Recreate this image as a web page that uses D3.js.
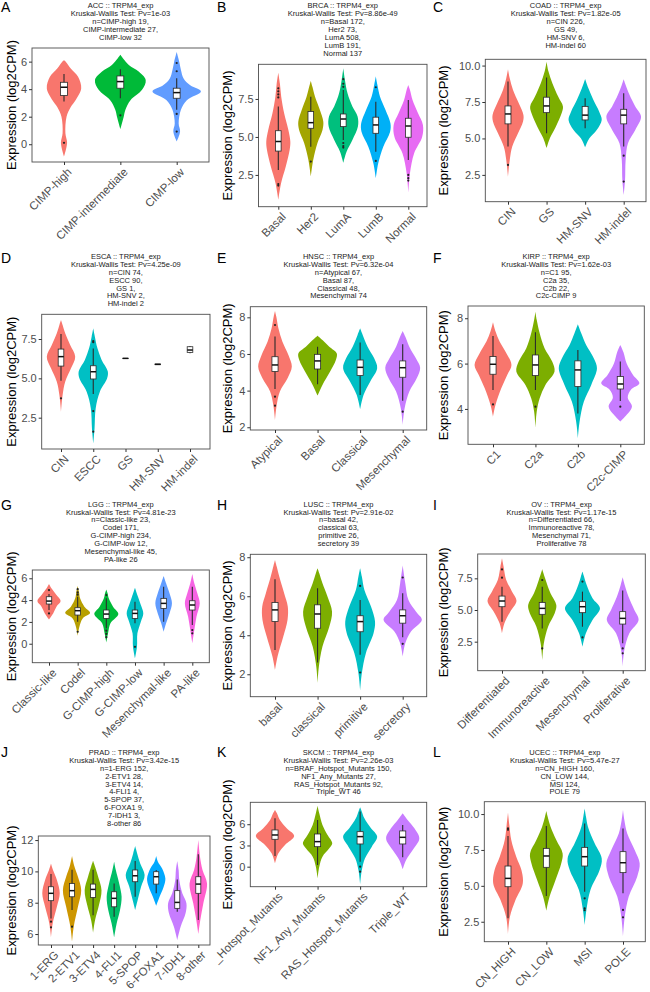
<!DOCTYPE html>
<html>
<head>
<meta charset="utf-8">
<script src="https://cdn.jsdelivr.net/npm/d3@7"></script>
<style>
  body { margin: 0; background: #fff; }
  text { font-family: "Liberation Sans", Arial, sans-serif; }
</style>
</head>
<body>
<script>
// ---- data ----
var panelLetters = ["A","B","C","D","E","F","G","H","I","J","K","L"];
var cohorts = ["ACC","BRCA","COAD","ESCA","HNSC","KIRP","LGG","LUSC","OV","PRAD","SKCM","UCEC"];
var pvals = ["1e-03","8.86e-49","1.82e-05","4.25e-09","6.32e-04","1.62e-03",
             "4.81e-23","2.91e-02","1.17e-15","3.42e-15","2.26e-03","5.47e-27"];

var subtypes = [
  ["CIMP-high","CIMP-intermediate","CIMP-low"],
  ["Basal","Her2","LumA","LumB","Normal"],
  ["CIN","GS","HM-SNV","HM-indel"],
  ["CIN","ESCC","GS","HM-SNV","HM-indel"],
  ["Atypical","Basal","Classical","Mesenchymal"],
  ["C1","C2a","C2b","C2c-CIMP"],
  ["Classic-like","Codel","G-CIMP-high","G-CIMP-low","Mesenchymal-like","PA-like"],
  ["basal","classical","primitive","secretory"],
  ["Differentiated","Immunoreactive","Mesenchymal","Proliferative"],
  ["1-ERG","2-ETV1","3-ETV4","4-FLI1","5-SPOP","6-FOXA1","7-IDH1","8-other"],
  ["BRAF_Hotspot_Mutants","NF1_Any_Mutants","RAS_Hotspot_Mutants","Triple_WT"],
  ["CN_HIGH","CN_LOW","MSI","POLE"]
];

var sampleCounts = [
  [19,27,32], [172,73,508,191,137], [226,49,6,60], [74,90,1,2,2],
  [67,87,48,74], [95,35,22,9], [23,171,234,12,45,26], [42,63,26,39],
  [66,78,71,78], [152,28,14,4,37,9,3,86], [150,27,92,46], [160,144,124,79]
];

var yLimits = [
  [-1.29,6.99], [0.41,9.78], [0.66,10.43], [0.51,9.07], [1.85,8.58], [2.44,8.54],
  [-1.74,6.76], [0.85,8.15], [0.21,9.42], [5.3,12.26], [-2.83,9.1], [1.11,10.86]
];

var yTickValues = [
  [0,2,4,6], [2.5,5,7.5], [2.5,5,7.5,10], [2.5,5,7.5], [2,4,6,8], [4,6,8],
  [0,2,4,6], [2,4,6,8], [2.5,5,7.5], [6,8,10,12], [0,3,6], [2.5,5,7.5,10]
];

// [lower whisker, q1, median, q3, upper whisker]
var boxStats = [
  [[3.1,3.54,4.14,4.5,5.1],[3.34,4.07,4.55,4.96,5.45],[2.5,3.34,3.75,4.07,4.8]],
  [[2.83,4.07,4.7,5.41,7.0],[4.36,5.57,5.94,6.67,7.65],[4.8,5.68,6.18,6.51,8.09],[4.03,5.24,5.79,6.3,7.32],[3.49,4.98,5.72,6.23,7.43]],
  [[4.45,6.0,6.68,7.23,8.9],[5.35,6.77,7.23,7.83,9.18],[5.7,6.27,6.6,7.2,7.75],[4.45,6.0,6.6,7.0,8.1]],
  [[4.85,5.78,6.38,6.86,7.82],[4.0,4.96,5.42,5.8,6.9],[6.27,6.27,6.27,6.27,6.27],[5.87,5.87,5.89,5.91,5.91],[6.6,6.65,6.8,7.01,7.06]],
  [[4.09,5.04,5.4,5.85,6.95],[4.35,5.18,5.62,5.98,6.4],[3.76,4.82,5.27,5.67,6.62],[3.44,4.73,5.25,5.62,6.53]],
  [[4.84,5.53,5.97,6.31,7.22],[4.84,5.47,5.94,6.38,7.38],[3.8,4.99,5.72,6.12,6.6],[4.35,4.88,5.1,5.43,6.09]],
  [[3.09,3.64,3.91,4.31,4.56],[2.02,2.63,3.03,3.3,4.31],[1.41,2.32,2.72,3.09,4.16],[1.87,2.32,2.78,3.09,3.85],[2.02,3.24,3.7,4.16,5.23],[1.71,3.09,3.55,3.94,5.23]],
  [[3.25,4.7,5.3,5.68,6.87],[2.6,4.36,5.09,5.56,6.41],[3.0,4.18,4.7,5.0,5.81],[3.9,4.62,5.0,5.3,6.15]],
  [[4.08,5.26,5.71,6.1,6.84],[3.55,4.66,5.13,5.6,6.84],[3.68,4.79,5.26,5.66,6.45],[2.37,3.89,4.34,4.87,6.53]],
  [[7.0,8.13,8.6,9.02,9.83],[7.53,8.38,8.77,9.23,10.1],[7.2,8.34,8.85,9.19,10.1],[7.1,7.74,8.28,8.7,9.23],[8.38,9.34,9.72,10.09,10.66],[8.6,9.19,9.66,9.98,10.09],[7.43,7.64,8.02,8.77,9.49],[6.89,8.6,9.19,9.66,11.1]],
  [[1.51,3.87,4.48,5.19,6.84],[0.24,2.83,3.54,4.62,6.6],[0.7,3.21,4.25,4.95,7.8],[1.32,3.21,4.15,5.05,5.9]],
  [[2.74,4.94,5.52,6.38,8.47],[4.29,6.29,7.08,7.61,9.16],[4.59,6.38,7.03,7.68,9.35],[4.48,5.92,6.61,7.38,9.0]]
];

var outlierValues = [
  [[0.1],[2.1],[5.3,5.9,2.2,0.92]],
  [[8.2,8.0,7.8,7.6,1.9,1.8],[3.38],[8.8,8.5,8.3,4.6,4.4,4.3],[8.27,3.42],[2.5,2.29,2.13]],
  [[3.18],[],[],[3.82,2.04]],
  [[3.73],[7.37,7.3,2.92,1.61],[],[],[]],
  [[7.58,3.67,3.18],[],[],[2.85]],
  [[4.2],[4.1],[],[4.1]],
  [[4.92,2.78],[5.0,4.7,4.5,1.1],[4.46,1.2,0.9,0.6],[-0.28],[],[1.25,0.95]],
  [[],[],[6.53,2.09],[6.96,3.56]],
  [[8.2,7.55],[7.37,1.97],[7.24,2.84],[1.97,1.58]],
  [[6.79,6.43],[6.47],[],[],[],[],[],[]],
  [[],[],[0,-0.71],[]],
  [[9.0,8.9],[],[4.13,3.43,3.3],[3.32,2.81]]
];

// violin outlines: [value, width as share of the category step]
var violinShapes = [
  [
    [[-0.9,0],[0.1,0.11],[0.8,0.05],[2.0,0.09],[2.7,0.24],[3.2,0.41],[4.05,0.61],[4.9,0.5],[5.5,0.24],[6.0,0.06],[6.1,0]],
    [[1.1,0],[2.0,0.12],[2.5,0.18],[3.2,0.36],[3.95,0.77],[4.67,0.9],[5.28,0.65],[5.76,0.3],[6.25,0.09],[6.5,0]],
    [[0.2,0],[0.92,0.12],[1.5,0.07],[2.5,0.15],[3.2,0.36],[3.83,0.86],[4.3,0.47],[4.8,0.24],[5.4,0.15],[6.0,0.09],[6.7,0]]
  ],
  [
    [[0.86,0],[1.95,0.17],[3.05,0.46],[4.15,0.7],[4.7,0.74],[5.46,0.62],[6.56,0.36],[7.65,0.18],[8.5,0.1],[9.23,0]],
    [[2.4,0],[3.5,0.15],[4.6,0.41],[5.46,0.72],[6.0,0.77],[6.78,0.56],[7.65,0.26],[8.3,0.1],[8.7,0]],
    [[3.3,0],[4.03,0.2],[4.8,0.56],[5.68,0.9],[6.34,0.88],[7.0,0.56],[7.87,0.26],[8.75,0.1],[9.52,0]],
    [[2.28,0],[3.27,0.15],[4.36,0.46],[5.35,0.88],[5.9,0.9],[6.78,0.6],[7.65,0.26],[8.42,0.1],[9.0,0]],
    [[1.34,0],[2.6,0.1],[3.93,0.36],[5.0,0.85],[5.79,0.9],[6.56,0.6],[7.43,0.26],[8.1,0.1],[8.42,0]]
  ],
  [
    [[2.38,0],[3.52,0.09],[4.44,0.22],[5.35,0.52],[6.16,0.78],[6.61,0.8],[7.41,0.56],[8.33,0.26],[9.13,0.09],[9.75,0]],
    [[4.33,0],[5.01,0.17],[5.81,0.48],[6.73,0.78],[7.19,0.85],[7.87,0.6],[8.79,0.3],[9.59,0.1],[10.27,0]],
    [[4.39,0],[5.01,0.22],[5.58,0.6],[6.27,0.86],[6.84,0.73],[7.64,0.43],[8.44,0.17],[9.08,0]],
    [[1.12,0],[2.15,0.07],[3.52,0.1],[4.67,0.22],[5.58,0.6],[6.5,0.9],[7.19,0.6],[7.99,0.3],[8.67,0.1],[9.06,0]]
  ],
  [
    [[2.88,0],[3.94,0.1],[4.79,0.26],[5.64,0.62],[6.38,0.88],[7.12,0.57],[7.86,0.26],[8.39,0.1],[8.7,0]],
    [[0.87,0],[1.82,0.08],[3.09,0.15],[4.15,0.41],[5.0,0.86],[5.45,0.9],[6.17,0.52],[6.91,0.26],[7.65,0.1],[8.18,0]],
    null, null, null
  ],
  [
    [[2.4,0],[3.22,0.08],[3.95,0.23],[4.67,0.59],[5.31,0.79],[5.95,0.63],[6.67,0.35],[7.4,0.16],[8.04,0.06],[8.35,0]],
    [[3.73,0],[4.31,0.23],[5.04,0.59],[5.67,0.86],[6.04,0.9],[6.4,0.55],[6.76,0.23],[7.0,0]],
    [[2.98,0],[3.76,0.16],[4.49,0.47],[5.22,0.8],[5.76,0.66],[6.4,0.35],[7.04,0.12],[7.4,0]],
    [[2.13,0],[3.04,0.09],[3.95,0.31],[4.67,0.66],[5.25,0.82],[5.76,0.62],[6.4,0.31],[6.95,0.12],[7.25,0]]
  ],
  [
    [[3.66,0],[4.18,0.12],[4.91,0.39],[5.5,0.67],[5.94,0.87],[6.46,0.63],[6.97,0.31],[7.41,0.12],[7.82,0]],
    [[3.18,0],[3.88,0.06],[4.47,0.2],[5.06,0.47],[5.65,0.9],[6.09,0.79],[6.68,0.43],[7.34,0.2],[7.93,0.06],[8.29,0]],
    [[2.7,0],[3.44,0.08],[4.32,0.28],[5.06,0.63],[5.79,0.9],[6.24,0.75],[6.82,0.39],[7.34,0.16],[7.74,0]],
    [[3.44,0],[3.74,0.3],[4.1,0.55],[4.5,0.35],[4.85,0.5],[5.13,0.9],[5.5,0.6],[6.0,0.3],[6.5,0.15],[6.82,0]]
  ],
  [
    [[2.23,0],[2.78,0.29],[3.4,0.52],[3.91,0.81],[4.46,0.52],[5.08,0.17],[5.47,0]],
    [[0.73,0],[1.56,0.12],[2.32,0.35],[2.84,0.87],[3.4,0.47],[4.16,0.17],[4.77,0.09],[5.29,0]],
    [[0.09,0],[0.95,0.12],[1.87,0.29],[2.72,0.84],[3.4,0.47],[4.16,0.17],[4.62,0.09],[4.98,0]],
    [[-1.35,0],[-0.28,0.14],[0.95,0.17],[2.02,0.41],[2.78,0.58],[3.55,0.41],[4.31,0.21],[5.14,0]],
    [[1.1,0],[1.87,0.17],[2.78,0.41],[3.7,0.58],[4.62,0.41],[5.54,0.17],[6.21,0]],
    [[0.03,0],[1.25,0.14],[2.48,0.29],[3.7,0.52],[4.62,0.35],[5.54,0.14],[6.39,0]]
  ],
  [
    [[2.22,0],[2.91,0.12],[3.93,0.39],[4.79,0.59],[5.47,0.6],[6.15,0.43],[7.01,0.2],[7.52,0.08],[7.86,0]],
    [[1.57,0],[2.39,0.06],[3.42,0.23],[4.44,0.55],[5.21,0.68],[5.98,0.47],[6.67,0.23],[7.18,0.08],[7.44,0]],
    [[1.16,0],[2.05,0.08],[3.08,0.27],[4.1,0.63],[4.7,0.7],[5.47,0.51],[6.32,0.2],[7.01,0.08],[7.44,0]],
    [[2.91,0],[3.59,0.12],[4.19,0.39],[4.79,0.9],[5.21,0.63],[5.81,0.27],[6.67,0.12],[7.57,0]]
  ],
  [
    [[3.16,0],[3.95,0.12],[4.87,0.41],[5.71,0.72],[6.45,0.5],[7.37,0.21],[8.42,0.08],[9.08,0]],
    [[1.05,0],[2.37,0.08],[3.68,0.29],[4.74,0.62],[5.39,0.7],[6.32,0.41],[7.37,0.17],[8.21,0]],
    [[2.1,0],[3.16,0.17],[4.21,0.5],[5.13,0.87],[5.92,0.5],[6.97,0.21],[7.63,0.08],[8.03,0]],
    [[0.53,0],[1.84,0.08],[3.16,0.33],[4.21,0.79],[5.0,0.58],[6.05,0.29],[6.97,0.1],[7.58,0]]
  ],
  [
    [[5.79,0],[6.68,0.16],[7.74,0.56],[8.6,0.83],[9.45,0.56],[10.09,0.19],[10.51,0]],
    [[5.51,0],[6.47,0.16],[7.74,0.56],[8.8,0.87],[9.66,0.56],[10.4,0.19],[10.98,0]],
    [[6.09,0],[6.89,0.19],[7.85,0.56],[8.8,0.8],[9.66,0.48],[10.3,0.19],[10.68,0]],
    [[5.79,0],[6.68,0.24],[7.53,0.56],[8.38,0.71],[9.23,0.48],[10.09,0.16],[10.62,0]],
    [[7.53,0],[8.17,0.24],[9.02,0.56],[9.77,0.9],[10.51,0.48],[11.15,0.19],[11.62,0]],
    [[7.81,0],[8.38,0.32],[9.02,0.71],[9.55,0.87],[10.19,0.56],[10.62,0.16],[10.98,0]],
    [[5.62,0],[6.47,0.32],[7.32,0.79],[7.96,0.87],[8.6,0.48],[9.45,0.19],[10.09,0.13],[10.66,0]],
    [[6.0,0],[6.89,0.19],[7.96,0.48],[9.23,0.83],[10.09,0.4],[10.94,0.16],[12.0,0]]
  ],
  [
    [[0.47,0],[1.89,0.16],[3.07,0.47],[4.34,0.9],[5.42,0.55],[6.6,0.23],[7.55,0.09],[8.02,0]],
    [[-1.65,0],[0,0.08],[1.42,0.23],[2.59,0.55],[3.3,0.69],[4.48,0.47],[5.9,0.23],[7.55,0.08],[8.63,0]],
    [[-2.45,0],[-0.47,0.08],[1.18,0.23],[2.83,0.55],[4.25,0.8],[5.42,0.51],[6.84,0.2],[7.78,0.08],[8.4,0]],
    [[-0.38,0],[0.94,0.16],[2.36,0.47],[4.0,0.78],[5.42,0.55],[6.6,0.23],[7.55,0]]
  ],
  [
    [[1.65,0],[2.85,0.1],[4.01,0.39],[5.17,0.77],[6.1,0.7],[7.03,0.43],[8.19,0.17],[9.23,0.07],[10.09,0]],
    [[3.27,0],[4.25,0.17],[5.41,0.48],[6.57,0.78],[7.26,0.85],[8.19,0.52],[9.12,0.22],[9.81,0.07],[10.21,0]],
    [[2.27,0],[3.32,0.09],[4.71,0.3],[6.1,0.78],[6.91,0.89],[7.96,0.52],[9.12,0.17],[9.81,0.07],[10.39,0]],
    [[1.51,0],[2.85,0.09],[4.25,0.3],[5.64,0.74],[6.57,0.87],[7.49,0.61],[8.65,0.22],[9.58,0.07],[10.28,0]]
  ]
];

// ---- layout (pixels) ----
// [box left, box right, box top, box bottom, first category x, last category x]
var frames = [
  [32,209,48,162,64,176.7],
  [258.5,427,64.3,206.7,278.3,408.3],
  [485.3,646,59.3,201.7,508,623.7],
  [41.7,210,314.3,449,61,190],
  [250.3,426.7,306.7,430,275,402.7],
  [468,644.3,306,444.3,493,620.3],
  [32.3,209.3,570,662.7,49,192.3],
  [250.3,426.7,554.3,696.7,275,402.7],
  [477.7,645.3,554,670.7,502,622.7],
  [38.3,210,836,945,51,198.3],
  [250.3,426.7,802.3,886.7,275,402.7],
  [484.3,645.3,801.7,941.7,508,623]
];
var colX = [0,216,432];
var colW = [216,216,218];
var rowTitleY = [5.7,256.3,504,752.3];
var rowLetterY = [12,263,510,757];

var palettes = {
  2: ["#F8766D","#00BFC4"],
  3: ["#F8766D","#00BA38","#619CFF"],
  4: ["#F8766D","#7CAE00","#00BFC4","#C77CFF"],
  5: ["#F8766D","#A3A500","#00BF7D","#00B0F6","#E76BF3"],
  6: ["#F8766D","#B79F00","#00BA38","#00BFC4","#619CFF","#F564E3"],
  8: ["#F8766D","#CD9600","#7CAE00","#00BE67","#00BFC4","#00A9FF","#C77CFF","#FF61CC"]
};

var svg = d3.select("body").append("svg")
  .attr("width", 650)
  .attr("height", 992);

var defs = svg.append("defs");

panelLetters.forEach(function(letter, i) {
  var col = i % 3, row = Math.floor(i / 3);
  var f = frames[i];
  var cats = subtypes[i];

  // clip sideways only, labels may run into the next row
  defs.append("clipPath").attr("id", "clip" + i)
    .append("rect")
    .attr("x", colX[col]).attr("y", 0)
    .attr("width", colW[col]).attr("height", 992);

  var g = svg.append("g").attr("clip-path", "url(#clip" + i + ")");

  var x = d3.scalePoint().domain(cats).range([f[4], f[5]]);
  var y = d3.scaleLinear().domain(yLimits[i]).range([f[3], f[2]]);
  var step = (f[5] - f[4]) / (cats.length - 1);

  // panel letter
  g.append("text")
    .attr("x", colX[col] + 1)
    .attr("y", rowLetterY[row])
    .style("font-size", "14px")
    .style("fill", "#000")
    .text(letter);

  // title block
  var lines = [cohorts[i] + " :: TRPM4_exp", "Kruskal-Wallis Test: Pv=" + pvals[i]];
  cats.forEach(function(c, k) {
    lines.push((k === 0 ? "n=" : "") + c + " " + sampleCounts[i][k] + (k < cats.length - 1 ? "," : ""));
  });
  g.append("g").selectAll("text").data(lines).enter().append("text")
    .attr("x", (f[0] + f[1]) / 2)
    .attr("y", function(d, k) { return rowTitleY[row] + k * 7.9; })
    .attr("dy", "0.35em")
    .style("text-anchor", "middle")
    .style("font-size", "7.5px")
    .style("fill", "#1a1a1a")
    .text(function(d) { return d; });

  // violins
  var nViolins = violinShapes[i].filter(function(v) { return v; }).length;
  var pal = palettes[nViolins];
  var vi = 0;
  violinShapes[i].forEach(function(shape, k) {
    if (!shape) return;
    var cx = x(cats[k]);
    var area = d3.area()
      .curve(d3.curveCatmullRom.alpha(0.5))
      .y(function(d) { return y(d[0]); })
      .x0(function(d) { return cx - d[1] * step / 2; })
      .x1(function(d) { return cx + d[1] * step / 2; });
    g.append("path")
      .attr("d", area(shape))
      .attr("fill", pal[vi])
      .attr("stroke", "none");
    vi++;
  });

  // boxplots
  var bw = 4 + 0.05 * step;
  boxStats[i].forEach(function(s, k) {
    var cx = x(cats[k]);
    var bg = g.append("g");
    bg.append("line")
      .attr("x1", cx).attr("x2", cx)
      .attr("y1", y(s[4])).attr("y2", y(s[0]))
      .attr("stroke", "#2b2b2b").attr("stroke-width", 1.1);
    bg.append("rect")
      .attr("x", cx - bw / 2).attr("width", bw)
      .attr("y", y(s[3])).attr("height", Math.max(0.1, y(s[1]) - y(s[3])))
      .attr("fill", "#fff").attr("stroke", "#2b2b2b").attr("stroke-width", 0.8);
    bg.append("line")
      .attr("x1", cx - bw / 2).attr("x2", cx + bw / 2)
      .attr("y1", y(s[2])).attr("y2", y(s[2]))
      .attr("stroke", "#111").attr("stroke-width", 1.5);
    bg.selectAll("circle").data(outlierValues[i][k]).enter().append("circle")
      .attr("cx", cx).attr("cy", function(d) { return y(d); })
      .attr("r", 1.1).attr("fill", "#222");
  });

  // panel border
  g.append("rect")
    .attr("x", f[0]).attr("y", f[2])
    .attr("width", f[1] - f[0]).attr("height", f[3] - f[2])
    .attr("fill", "none").attr("stroke", "#4d4d4d").attr("stroke-width", 0.9);

  // y axis
  var ticks = yTickValues[i];
  var dec = ticks.some(function(t) { return t % 1 !== 0; }) ? 1 : 0;
  var yAxis = g.append("g")
    .attr("transform", "translate(" + f[0] + ",0)")
    .call(d3.axisLeft(y).tickValues(ticks).tickSize(3).tickPadding(2)
      .tickFormat(function(d) { return d.toFixed(dec); }));
  yAxis.select(".domain").remove();
  yAxis.selectAll("line").attr("stroke", "#333");
  yAxis.selectAll("text").style("font-size", "11px").style("fill", "#4d4d4d")
    .style("font-family", '"Liberation Sans", Arial, sans-serif');

  // x axis
  var xAxis = g.append("g")
    .attr("transform", "translate(0," + f[3] + ")")
    .call(d3.axisBottom(x).tickSize(3));
  xAxis.select(".domain").remove();
  xAxis.selectAll("line").attr("stroke", "#333");
  xAxis.selectAll("text")
    .attr("x", 0).attr("y", 0).attr("dy", "0.71em")
    .attr("transform", "translate(2,5) rotate(-45)")
    .style("text-anchor", "end")
    .style("font-size", "11.5px").style("fill", "#4d4d4d")
    .style("font-family", '"Liberation Sans", Arial, sans-serif');

  // y axis title
  g.append("text")
    .attr("transform", "translate(" + (colX[col] + 11.5) + "," + ((f[2] + f[3]) / 2) + ") rotate(-90)")
    .attr("dy", "0.35em")
    .style("text-anchor", "middle")
    .style("font-size", "13px")
    .style("fill", "#000")
    .text("Expression (log2CPM)");
});
</script>
</body>
</html>
